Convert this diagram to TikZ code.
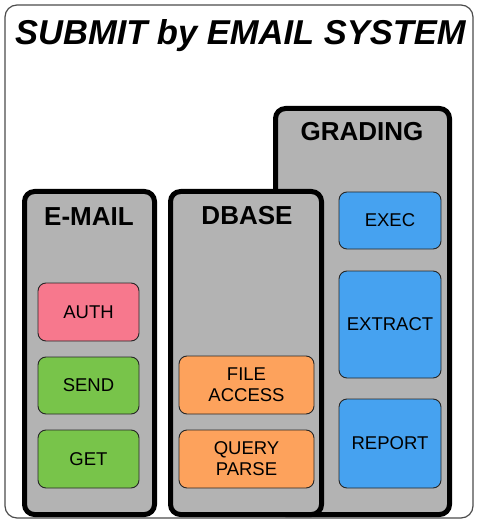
\documentclass[tikz,border=0pt]{standalone}
\usepackage{fontspec}
\setmainfont{Liberation Sans}
\definecolor{panelgray}{HTML}{B3B3B3}
\definecolor{authpink}{HTML}{F7788D}
\definecolor{mailgreen}{HTML}{78C44A}
\definecolor{dborange}{HTML}{FDA25C}
\definecolor{gradeblue}{HTML}{46A2F0}
\begin{document}
\begin{tikzpicture}[x=1pt, y=-1pt, line join=round,
		panel/.style={draw=black, fill=panelgray, line width=5pt, rounded corners=10pt},
		paneltitle/.style={anchor=base, inner sep=0pt, font=\fontsize{26}{30}\selectfont\bfseries},
		unit/.style={draw=black!85, line width=0.9pt, rounded corners=8pt, align=center,
			inner sep=0pt, font=\fontsize{18.5}{21}\selectfont},
		wh/.style 2 args={minimum width=#1pt, minimum height=#2pt}]
		\useasboundingbox (0,0) rectangle (476,521);
		% outer frame and title
		\draw[black!70, line width=1.2pt, rounded corners=12pt] (5,5) rectangle (473,518);
		\node (title) at (15,45) [anchor=base west, inner sep=0pt,
			font=\fontsize{34.5}{40}\selectfont\bfseries\itshape] {SUBMIT by EMAIL SYSTEM};
		% panels
		\draw[panel] (275.5,108.5) rectangle (449.5,514.5);
		\draw[panel] (24.5,191.5) rectangle (154.5,514.5);
		\draw[panel] (170.5,191.5) rectangle (321.5,514.5);
		\node (grading) at (362,141) [paneltitle] {GRADING};
		\node (email) at (89,225) [paneltitle] {E-MAIL};
		\node (dbase) at (247,224) [paneltitle] {DBASE};
		% e-mail units
		\node (auth) at (88.5,312) [unit, fill=authpink, wh={101}{58}] {AUTH};
		\node (send) at (88.5,385.5) [unit, fill=mailgreen, wh={101}{57}] {SEND};
		\node (get) at (88.5,459) [unit, fill=mailgreen, wh={101}{58}] {GET};
		% dbase units
		\node (file) at (246.5,385) [unit, fill=dborange, wh={135}{58}] {FILE\\ACCESS};
		\node (query) at (246.5,459) [unit, fill=dborange, wh={135}{58}] {QUERY\\PARSE};
		% grading units
		\node (exec) at (390,220.5) [unit, fill=gradeblue, wh={102}{57}] {EXEC};
		\node (extract) at (390,324.5) [unit, fill=gradeblue, wh={102}{107}] {EXTRACT};
		\node (report) at (390,443.5) [unit, fill=gradeblue, wh={102}{89}] {REPORT};
\end{tikzpicture}
\end{document}
